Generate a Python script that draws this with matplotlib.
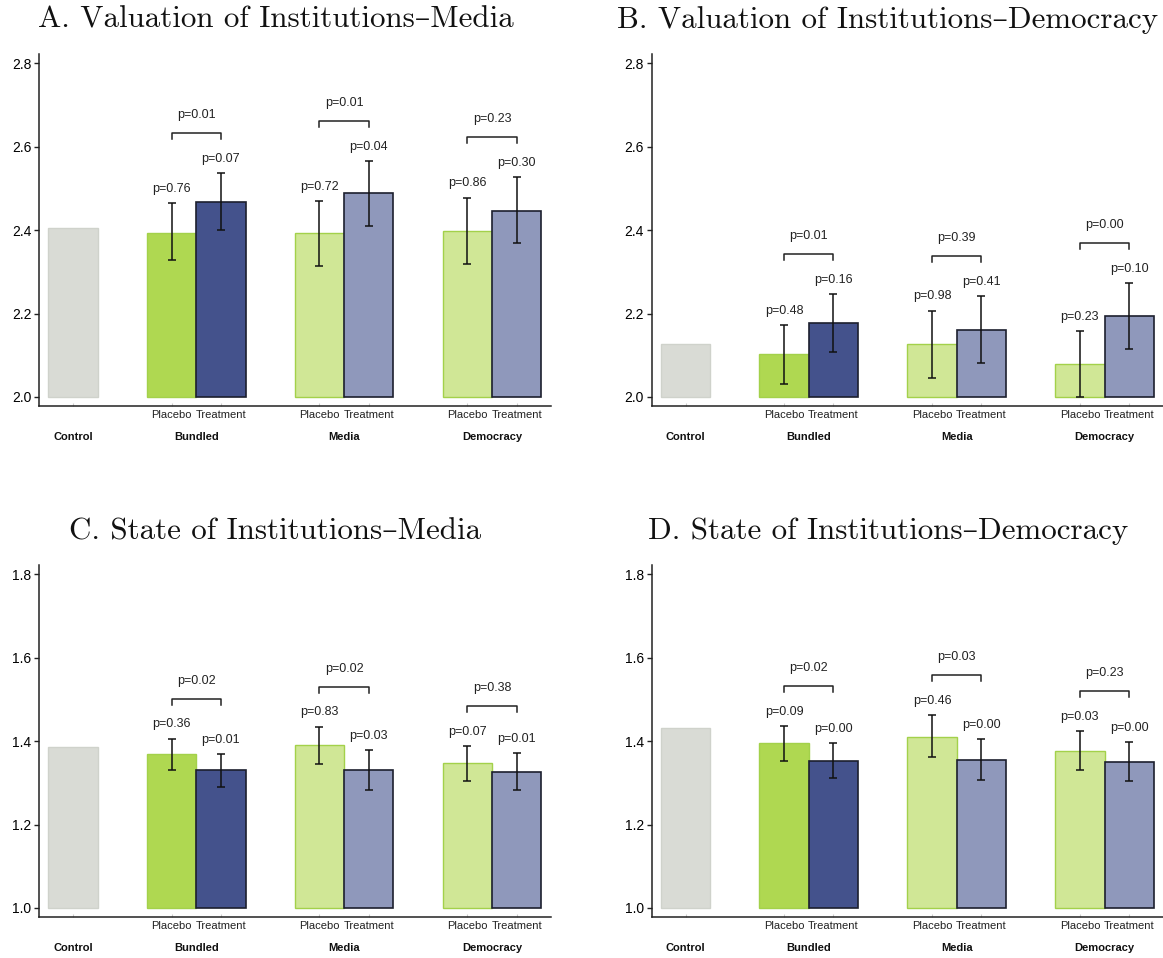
import matplotlib
matplotlib.use('Agg')
import matplotlib.pyplot as plt
import numpy as np

plt.rcParams['font.family'] = ['Liberation Sans', 'DejaVu Sans']

groups = ['Control', 'Bundled', 'Media', 'Democracy']
sub_labels = ['Placebo', 'Treatment']

titles = ['A. Valuation of Institutions\u2013Media',
          'B. Valuation of Institutions\u2013Democracy',
          'C. State of Institutions\u2013Media',
          'D. State of Institutions\u2013Democracy']

# panel A
control_A = 2.405
placebo_A = [2.394, 2.392, 2.399]
placebo_lo_A = [2.328, 2.314, 2.319]
placebo_hi_A = [2.464, 2.469, 2.478]
treat_A = [2.468, 2.488, 2.447]
treat_lo_A = [2.400, 2.410, 2.369]
treat_hi_A = [2.536, 2.565, 2.528]
p_placebo_A = ['0.76', '0.72', '0.86']
p_treat_A = ['0.07', '0.04', '0.30']
p_diff_A = ['0.01', '0.01', '0.23']

# panel B
control_B = 2.128
placebo_B = [2.102, 2.126, 2.078]
placebo_lo_B = [2.032, 2.046, 2.000]
placebo_hi_B = [2.172, 2.207, 2.158]
treat_B = [2.178, 2.161, 2.194]
treat_lo_B = [2.108, 2.081, 2.115]
treat_hi_B = [2.247, 2.242, 2.274]
p_placebo_B = ['0.48', '0.98', '0.23']
p_treat_B = ['0.16', '0.41', '0.10']
p_diff_B = ['0.01', '0.39', '0.00']

# panel C
control_C = 1.385
placebo_C = [1.368, 1.390, 1.347]
placebo_lo_C = [1.331, 1.346, 1.304]
placebo_hi_C = [1.406, 1.435, 1.389]
treat_C = [1.330, 1.331, 1.327]
treat_lo_C = [1.291, 1.284, 1.284]
treat_hi_C = [1.368, 1.379, 1.371]
p_placebo_C = ['0.36', '0.83', '0.07']
p_treat_C = ['0.01', '0.03', '0.01']
p_diff_C = ['0.02', '0.02', '0.38']

# panel D
control_D = 1.431
placebo_D = [1.395, 1.411, 1.377]
placebo_lo_D = [1.353, 1.362, 1.332]
placebo_hi_D = [1.436, 1.462, 1.424]
treat_D = [1.353, 1.355, 1.351]
treat_lo_D = [1.312, 1.307, 1.305]
treat_hi_D = [1.395, 1.405, 1.398]
p_placebo_D = ['0.09', '0.46', '0.03']
p_treat_D = ['0.00', '0.00', '0.00']
p_diff_D = ['0.02', '0.03', '0.23']

y_ticks_top = [2.0, 2.2, 2.4, 2.6, 2.8]
y_ticks_bottom = [1.0, 1.2, 1.4, 1.6, 1.8]

panels = [
    (control_A, placebo_A, placebo_lo_A, placebo_hi_A, treat_A, treat_lo_A, treat_hi_A,
     p_placebo_A, p_treat_A, p_diff_A, y_ticks_top),
    (control_B, placebo_B, placebo_lo_B, placebo_hi_B, treat_B, treat_lo_B, treat_hi_B,
     p_placebo_B, p_treat_B, p_diff_B, y_ticks_top),
    (control_C, placebo_C, placebo_lo_C, placebo_hi_C, treat_C, treat_lo_C, treat_hi_C,
     p_placebo_C, p_treat_C, p_diff_C, y_ticks_bottom),
    (control_D, placebo_D, placebo_lo_D, placebo_hi_D, treat_D, treat_lo_D, treat_hi_D,
     p_placebo_D, p_treat_D, p_diff_D, y_ticks_bottom),
]

W, H = 1163, 958
fig = plt.figure(figsize=(W / 100, H / 100), dpi=100)

# axes boxes in pixels: left, top
boxes = [(39, 54), (651.5, 54), (39, 565), (651.5, 565)]
ax_w, ax_h = 511.7, 352
title_x = [275.5, 887.7, 275.5, 887.7]
title_base = [28, 28, 539, 539]

control_col = '#d9dbd5'
control_edge = '#cfd2cb'
placebo_cols = ['#afd851', '#d0e796', '#d0e796']
placebo_edge = '#a3d14a'
treat_cols = ['#44528c', '#8f98bb', '#8f98bb']
treat_edge = '#1c1f2e'

placebo_x = np.array([2, 5, 8])
treat_x = placebo_x + 1

for i, (ctrl, pl, pl_lo, pl_hi, tr, tr_lo, tr_hi, pp, pt, pd_, yt) in enumerate(panels):
    left, top = boxes[i]
    ax = fig.add_axes([left / W, 1 - (top + ax_h) / H, ax_w / W, ax_h / H])
    base = yt[0]
    ax.set_ylim(base - 0.0216, yt[-1] + 0.0223)
    ax.set_xlim(-0.69, 9.69)

    ax.bar(0, ctrl - base, bottom=base, width=1, color=control_col,
           edgecolor=control_edge, linewidth=1)
    ax.bar(placebo_x, np.array(pl) - base, bottom=base, width=1, color=placebo_cols,
           edgecolor=placebo_edge, linewidth=1)
    ax.bar(treat_x, np.array(tr) - base, bottom=base, width=1, color=treat_cols,
           edgecolor=treat_edge, linewidth=1.2)

    pl = np.array(pl); tr = np.array(tr)
    ax.errorbar(placebo_x, pl, yerr=[pl - np.array(pl_lo), np.array(pl_hi) - pl],
                fmt='none', ecolor='#111111', elinewidth=1.1, capsize=3, capthick=1.1)
    ax.errorbar(treat_x, tr, yerr=[tr - np.array(tr_lo), np.array(tr_hi) - tr],
                fmt='none', ecolor='#111111', elinewidth=1.1, capsize=3, capthick=1.1)

    for j in range(3):
        ax.text(placebo_x[j], pl_hi[j] + 0.034, 'p=' + pp[j], ha='center', va='center',
                fontsize=9, color='#222222')
        ax.text(treat_x[j], tr_hi[j] + 0.034, 'p=' + pt[j], ha='center', va='center',
                fontsize=9, color='#222222')
        yb = max(pl_hi[j], tr_hi[j]) + 0.096
        ax.plot([placebo_x[j], placebo_x[j], treat_x[j], treat_x[j]],
                [yb - 0.0144, yb, yb, yb - 0.0144], color='#222222', lw=1.1)
        ax.text((placebo_x[j] + treat_x[j]) / 2, yb + 0.043, 'p=' + pd_[j],
                ha='center', va='center', fontsize=9, color='#222222')

    for s in ['top', 'right']:
        ax.spines[s].set_visible(False)
    for s in ['left', 'bottom']:
        ax.spines[s].set_color('#222222')
        ax.spines[s].set_linewidth(1.1)

    ax.set_yticks(yt)
    ax.set_yticklabels(['%.1f' % v for v in yt], fontsize=10)
    ax.tick_params(axis='y', length=3.5, width=1, color='#222222', pad=2)

    xt = [0, 2, 3, 5, 6, 8, 9]
    ax.set_xticks(xt)
    ax.set_xticklabels([''] + sub_labels * 3, fontsize=8, color='#222222')
    ax.tick_params(axis='x', direction='in', length=2, color='#cccccc', pad=3)

    for gx, g in zip([0, 2.5, 5.5, 8.5], groups):
        ax.annotate(g, xy=(gx, 0), xycoords=('data', 'axes fraction'),
                    xytext=(0, -22), textcoords='offset points', ha='center', va='center',
                    fontsize=8, fontweight='bold', color='#111111')

    fig.text(title_x[i] / W, 1 - title_base[i] / H, titles[i], ha='center', va='baseline',
             fontsize=22.3, family=['cmr10', 'DejaVu Serif'], color='#111111')

fig.savefig('out.png', dpi=100)
